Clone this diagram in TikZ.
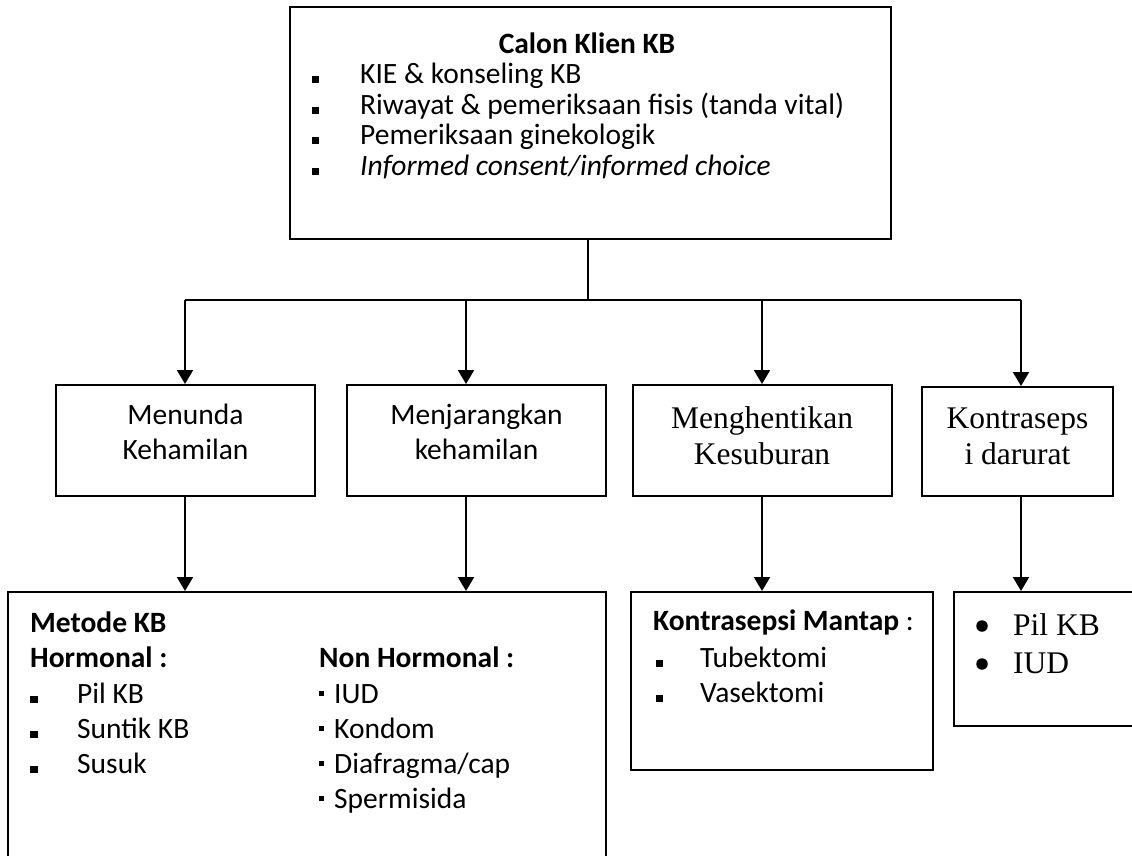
\documentclass[tikz,border=0pt]{standalone}
\usepackage{fontspec}
\setmainfont{Carlito}
\newfontfamily\tmsfam{Liberation Serif}
\usetikzlibrary{arrows.meta}
\newcommand\sqbul{\rule[0.5pt]{7pt}{7pt}}
\newcommand\smbul{\rule[7pt]{5pt}{5pt}}
\begin{document}
\begin{tikzpicture}[x=1pt,y=-1pt,
  box/.style={draw, line width=2pt, rectangle, inner sep=0pt},
  ln/.style={line width=2pt},
  arr/.style={line width=2pt, -{Triangle[width=16pt,length=14pt]}},
  dot/.style={circle, fill, inner sep=0pt, minimum size=11.5pt},
  cal/.style={font=\fontsize{29.5}{30}\selectfont, inner sep=0pt},
  calb/.style={font=\fontsize{29.5}{30}\selectfont\bfseries, inner sep=0pt},
  tms/.style={font=\tmsfam\fontsize{31.5}{36}\selectfont, inner sep=0pt}]
\useasboundingbox (0,0) rectangle (1132,855);
\clip (0,0) rectangle (1132,855);
% boxes
\node[box, minimum width=601pt, minimum height=232pt] (top) at (590.5,123) {};
\node[box, minimum width=259pt, minimum height=111pt] (b1) at (185.5,440.5) {};
\node[box, minimum width=259pt, minimum height=111pt] (b2) at (476.5,440.5) {};
\node[box, minimum width=259pt, minimum height=111pt] (b3) at (762,440.5) {};
\node[box, minimum width=191pt, minimum height=109pt] (b4) at (1017.5,441.5) {};
\node[box, minimum width=598pt, minimum height=300pt] (metode) at (307,742) {};
\node[box, minimum width=302pt, minimum height=178pt] (mantap) at (782,681) {};
\node[box, minimum width=200pt, minimum height=134pt] (darurat) at (1054,659) {};
% connectors
\coordinate (j0) at (588,300);
\coordinate (jl) at (185,300);
\coordinate (j2) at (466,300);
\coordinate (j3) at (762,300);
\coordinate (jr) at (1021,300);
\draw[ln] (j0 |- top.south) -- (j0);
\draw[ln] (jl) -- (jr);
\draw[arr] (jl) -- (jl |- b1.north);
\draw[arr] (j2) -- (j2 |- b2.north);
\draw[arr] (j3) -- (b3.north);
\draw[arr] (jr) -- (jr |- b4.north);
\draw[arr] (jl |- b1.south) -- (jl |- metode.north);
\draw[arr] (j2 |- b2.south) -- (j2 |- metode.north);
\draw[arr] (b3.south) -- (b3.south |- mantap.north);
\draw[arr] (jr |- b4.south) -- (jr |- darurat.north);
% top box text
\node[calb, anchor=base] (t0) at (587,53) {Calon Klien KB};
\node[cal, anchor=base] (t1s) at (315,83.5) {\sqbul};
\node[cal, anchor=base west] (t1) at (360,83.5) {KIE \& konseling KB};
\node[cal, anchor=base] (t2s) at (315,114) {\sqbul};
\node[cal, anchor=base west] (t2) at (360,114) {Riwayat \& pemeriksaan fisis (tanda vital)};
\node[cal, anchor=base] (t3s) at (315,144.5) {\sqbul};
\node[cal, anchor=base west] (t3) at (360,144.5) {Pemeriksaan ginekologik};
\node[cal, anchor=base] (t4s) at (315,175) {\sqbul};
\node[cal, anchor=base west] (t4) at (360,175) {\itshape Informed consent/informed choice};
% level 2 texts
\node[cal, anchor=base] (b1a) at (185.5,424) {Menunda};
\node[cal, anchor=base] (b1b) at (185.5,459) {Kehamilan};
\node[cal, anchor=base] (b2a) at (476.5,424) {Menjarangkan};
\node[cal, anchor=base] (b2b) at (476.5,459) {kehamilan};
\node[tms, anchor=base] (b3a) at (762,428) {Menghentikan};
\node[tms, anchor=base] (b3b) at (762,464) {Kesuburan};
\node[tms, anchor=base] (b4a) at (1017.5,428) {Kontraseps};
\node[tms, anchor=base] (b4b) at (1017.5,464) {i darurat};
% metode text
\node[calb, anchor=base west] (m0) at (30,632) {Metode KB};
\node[calb, anchor=base west] (m1) at (30,667) {Hormonal :};
\node[cal, anchor=base] (m2s) at (34,703) {\sqbul};
\node[cal, anchor=base west] (m2) at (77,703) {Pil KB};
\node[cal, anchor=base] (m3s) at (34,738) {\sqbul};
\node[cal, anchor=base west] (m3) at (77,738) {Suntik KB};
\node[cal, anchor=base] (m4s) at (34,773) {\sqbul};
\node[cal, anchor=base west] (m4) at (77,773) {Susuk};
\node[calb, anchor=base west] (n1) at (319,667) {Non Hormonal :};
\node[cal, anchor=base west] (n2s) at (319,703) {\smbul};
\node[cal, anchor=base west] (n2) at (334,703) {IUD};
\node[cal, anchor=base west] (n3s) at (319,738) {\smbul};
\node[cal, anchor=base west] (n3) at (334,738) {Kondom};
\node[cal, anchor=base west] (n4s) at (319,773) {\smbul};
\node[cal, anchor=base west] (n4) at (334,773) {Diafragma/cap};
\node[cal, anchor=base west] (n5s) at (319,808) {\smbul};
\node[cal, anchor=base west] (n5) at (334,808) {Spermisida};
% mantap text
\node[cal, anchor=base west] (k0) at (653,630) {\textbf{Kontrasepsi Mantap} :};
\node[cal, anchor=base] (k1s) at (659,667) {\sqbul};
\node[cal, anchor=base west] (k1) at (700,667) {Tubektomi};
\node[cal, anchor=base] (k2s) at (659,702) {\sqbul};
\node[cal, anchor=base west] (k2) at (700,702) {Vasektomi};
% darurat text
\node[dot] (d1s) at (982,626) {};
\node[tms, anchor=base west] (d1) at (1013,635) {Pil KB};
\node[dot] (d2s) at (982,664) {};
\node[tms, anchor=base west] (d2) at (1013,673) {IUD};
\end{tikzpicture}
\end{document}
